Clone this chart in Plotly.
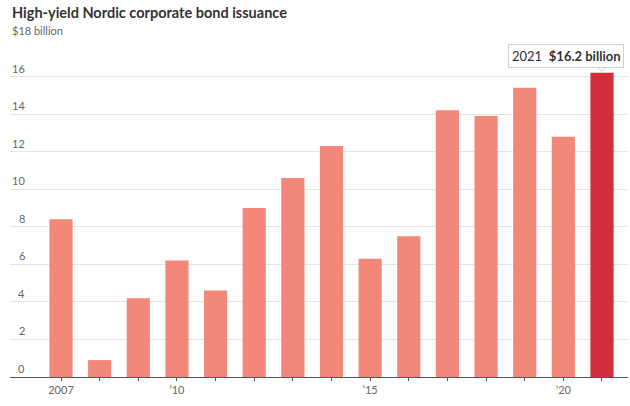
import plotly.graph_objects as go

years = list(range(2007, 2022))
values = [8.4, 0.9, 4.2, 6.2, 4.6, 9.0, 10.6, 12.3, 6.3, 7.5, 14.2, 13.9, 15.4, 12.8, 16.2]
x_tick_labels = {2007: "2007", 2010: "\u201910", 2015: "\u201915", 2020: "\u201920"}
y_ticks = [0, 2, 4, 6, 8, 10, 12, 14, 16]
y_top_label = "$18 billion"
title = "High-yield Nordic corporate bond issuance"

SALMON = "#F2877A"
RED = "#D12F3B"
colors = [RED if y == years[-1] else SALMON for y in years]

fig = go.Figure()
fig.add_trace(go.Bar(x=years, y=values, marker=dict(color=colors, line=dict(width=0)),
                     width=0.6, hoverinfo="skip"))

FONT = "Lato"
fig.update_layout(
    width=630, height=406,
    margin=dict(l=10, r=2, t=39, b=29),
    paper_bgcolor="white", plot_bgcolor="white",
    showlegend=False,
    font=dict(family=FONT, color="#666", size=11),
    xaxis=dict(range=[2005.68, 2021.673], tickvals=years,
               ticktext=[x_tick_labels.get(y, "") for y in years],
               ticks="outside", ticklen=3, tickcolor="#555", tickwidth=1,
               showline=True, linecolor="#555", linewidth=1,
               showgrid=False, zeroline=False,
               tickfont=dict(size=11, color="#666", family=FONT)),
    yaxis=dict(range=[0, 18], tickvals=y_ticks + [18], showticklabels=False,
               showgrid=True, gridcolor="#e4e4e4", gridwidth=1,
               zeroline=False, showline=False, fixedrange=True),
)

# title
fig.add_annotation(text="<b>" + title + "</b>", xref="paper", yref="paper",
                   x=0, xanchor="left", xshift=0, y=1, yanchor="bottom", yshift=16,
                   showarrow=False, font=dict(size=14.5, color="#333", family=FONT))

# y labels above gridlines
for v in y_ticks:
    fig.add_annotation(text=str(v), xref="paper", yref="y", x=0.0275, xanchor="right",
                       y=v, yanchor="bottom", yshift=0, showarrow=False,
                       font=dict(size=11, color="#666", family=FONT))
fig.add_annotation(text=y_top_label, xref="paper", yref="y", x=0, xanchor="left", xshift=0,
                   y=18, yanchor="bottom", yshift=0, showarrow=False,
                   font=dict(size=11, color="#666", family=FONT))

# callout
fig.add_annotation(text=f"{years[-1]}  <b>${values[-1]} billion</b>", x=years[-1], y=values[-1],
                   xref="x", yref="y", xanchor="center", yanchor="bottom",
                   xshift=-36, yshift=5, showarrow=False,
                   bgcolor="white", bordercolor="#d0d0d0", borderwidth=1, borderpad=3,
                   font=dict(size=13, color="#333", family=FONT))
# caret
fig.add_shape(type="path", xref="x", yref="y", xsizemode="pixel", ysizemode="pixel",
              xanchor=years[-1], yanchor=values[-1],
              path="M -5,6.5 L 0,1.5 L 5,6.5 Z", fillcolor="white",
              line=dict(color="#d0d0d0", width=1))
fig.add_shape(type="line", xref="x", yref="y", xsizemode="pixel", ysizemode="pixel",
              xanchor=years[-1], yanchor=values[-1], x0=-4.5, x1=4.5, y0=6.5, y1=6.5,
              line=dict(color="white", width=2))

fig.write_html("out.html")
